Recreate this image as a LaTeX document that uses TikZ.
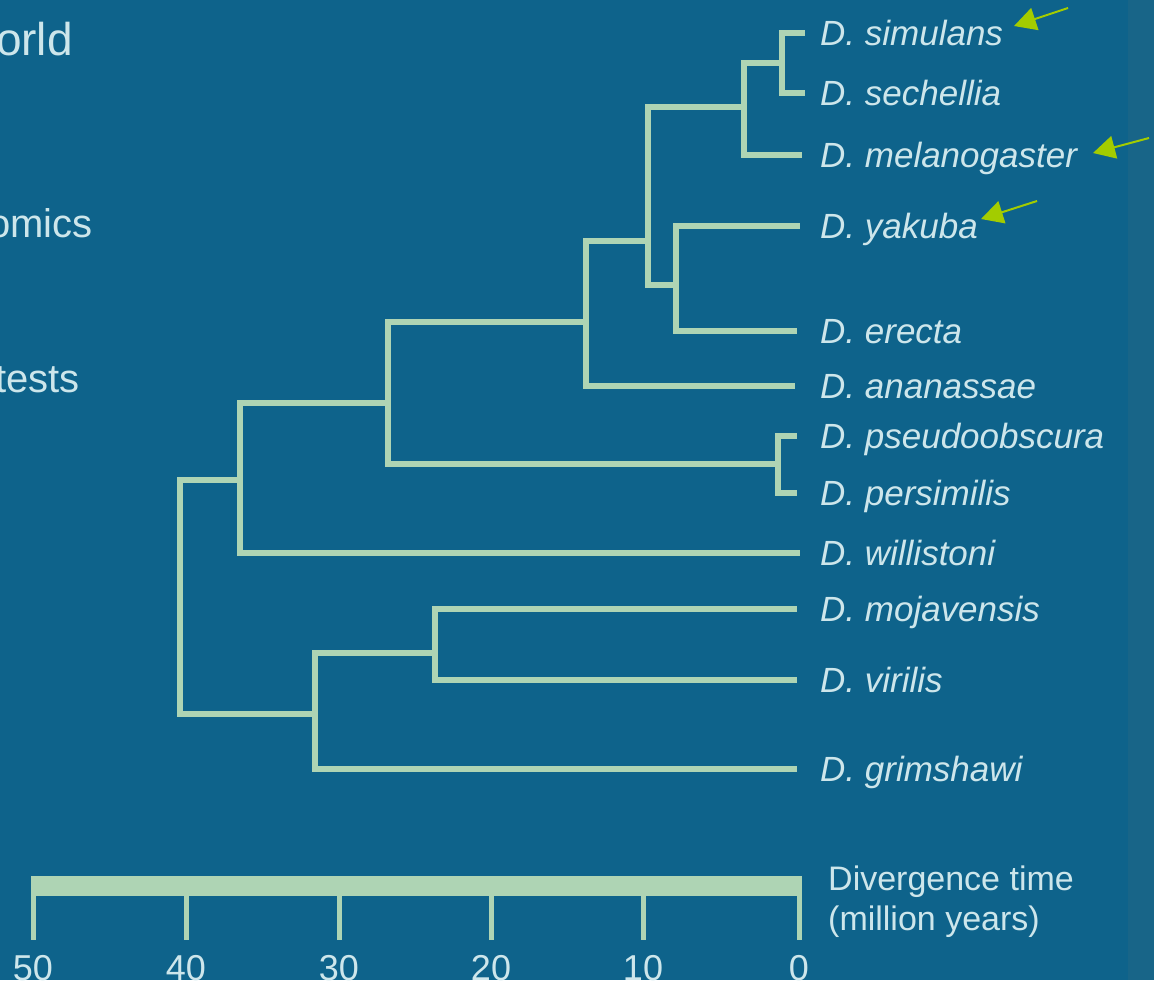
\documentclass[tikz,border=0pt]{standalone}
\usepackage{fontspec}
\setmainfont{Liberation Sans}
\usetikzlibrary{arrows.meta}
\definecolor{bgblue}{RGB}{14,99,139}
\definecolor{stripblue}{RGB}{24,101,136}
\definecolor{branch}{RGB}{174,212,180}
\definecolor{labeltxt}{RGB}{205,230,235}
\definecolor{pointer}{RGB}{163,204,0}
\tikzset{
  branchline/.style={draw=branch, line width=6pt, line join=miter},
  species/.style={anchor=base west, inner sep=0pt, text=labeltxt, font=\fontsize{35}{40}\selectfont\itshape},
  bullettxt/.style={anchor=base east, inner sep=0pt, text=labeltxt, font=\fontsize{40}{46}\selectfont},
  axistxt/.style={inner sep=0pt, text=labeltxt, font=\fontsize{34}{40}\selectfont},
  numtxt/.style={inner sep=0pt, text=labeltxt, font=\fontsize{36}{40}\selectfont},
  tickline/.style={draw=branch, line width=5pt},
  pointerarrow/.style={draw=pointer, line width=2pt, -{Triangle[length=22pt,width=23pt]}, fill=pointer},
}
\begin{document}
\begin{tikzpicture}[x=1pt,y=-1pt]
\useasboundingbox (0,0) rectangle (1154,980);
\fill[bgblue] (0,0) rectangle (1154,980);
\fill[stripblue] (1128,0) rectangle (1154,980);
\begin{scope}
\clip (0,0) rectangle (1154,980);
% left slide text (cut off)
\node[bullettxt, font=\fontsize{46}{52}\selectfont] (tw) at (73,55) {orld};
\node[bullettxt] (tg) at (93,237) {omics};
\node[bullettxt] (tt) at (80,392) {tests};

% leaf tips
\coordinate (tSim) at (805,33);
\coordinate (tSec) at (805,93);
\coordinate (tMel) at (802,155);
\coordinate (tYak) at (800,226);
\coordinate (tEre) at (797,331);
\coordinate (tAna) at (795,386);
\coordinate (tPse) at (797,436);
\coordinate (tPer) at (797,493);
\coordinate (tWil) at (800,553);
\coordinate (tMoj) at (797,609);
\coordinate (tVir) at (797,680);
\coordinate (tGri) at (797,769);
% internal nodes
\coordinate (nSS) at (782,63);
\coordinate (nSSM) at (744,107);
\coordinate (nYE) at (676,285);
\coordinate (nMel) at (648,241);
\coordinate (nAna) at (586,322);
\coordinate (nPP) at (778,464);
\coordinate (nSo) at (388,403);
\coordinate (nWil) at (240,480);
\coordinate (nMV) at (435,653);
\coordinate (nGri) at (315,714);
\coordinate (nRoot) at (180,597);

% tree
\draw[branchline] (nSS) |- (tSim);
\draw[branchline] (nSS) |- (tSec);
\draw[branchline] (nSSM) |- (nSS);
\draw[branchline] (nSSM) |- (tMel);
\draw[branchline] (nYE) |- (tYak);
\draw[branchline] (nYE) |- (tEre);
\draw[branchline] (nMel) |- (nSSM);
\draw[branchline] (nMel) |- (nYE);
\draw[branchline] (nAna) |- (nMel);
\draw[branchline] (nAna) |- (tAna);
\draw[branchline] (nPP) |- (tPse);
\draw[branchline] (nPP) |- (tPer);
\draw[branchline] (nSo) |- (nAna);
\draw[branchline] (nSo) |- (nPP);
\draw[branchline] (nWil) |- (nSo);
\draw[branchline] (nWil) |- (tWil);
\draw[branchline] (nMV) |- (tMoj);
\draw[branchline] (nMV) |- (tVir);
\draw[branchline] (nGri) |- (nMV);
\draw[branchline] (nGri) |- (tGri);
\draw[branchline] (nRoot) |- (nWil);
\draw[branchline] (nRoot) |- (nGri);

% species labels
\node[species] (lSim) at (820,45) {D. simulans};
\node[species] (lSec) at (820,105) {D. sechellia};
\node[species] (lMel) at (820,167) {D. melanogaster};
\node[species] (lYak) at (820,238) {D. yakuba};
\node[species] (lEre) at (820,343) {D. erecta};
\node[species] (lAna) at (820,398) {D. ananassae};
\node[species] (lPse) at (820,448) {D. pseudoobscura};
\node[species] (lPer) at (820,505) {D. persimilis};
\node[species] (lWil) at (820,565) {D. willistoni};
\node[species] (lMoj) at (820,621) {D. mojavensis};
\node[species] (lVir) at (820,692) {D. virilis};
\node[species] (lGri) at (820,781) {D. grimshawi};

% pointer arrows
\coordinate (aSimT) at (1068,8);   \coordinate (aSimH) at (1014,26);
\coordinate (aMelT) at (1149,138); \coordinate (aMelH) at (1093,153);
\coordinate (aYakT) at (1037,201); \coordinate (aYakH) at (981,219);
\draw[pointerarrow] (aSimT) -- (aSimH);
\draw[pointerarrow] (aMelT) -- (aMelH);
\draw[pointerarrow] (aYakT) -- (aYakH);

% scale bar
\fill[branch] (31,876) rectangle (802,896);
\foreach \xx/\lab [count=\i] in {33/50,186/40,339/30,491/20,643/10,799/0}{
  \coordinate (tk\i) at (\xx,894);
  \coordinate (tb\i) at (\xx,940);
  \draw[tickline] (tk\i) -- (tb\i);
  \node[numtxt, anchor=base] (num\i) at (\xx,980) {\lab};
}
\node[axistxt, anchor=base west] (ax1) at (828,890) {Divergence time};
\node[axistxt, anchor=base west] (ax2) at (828,930) {(million years)};
\end{scope}
\end{tikzpicture}
\end{document}
